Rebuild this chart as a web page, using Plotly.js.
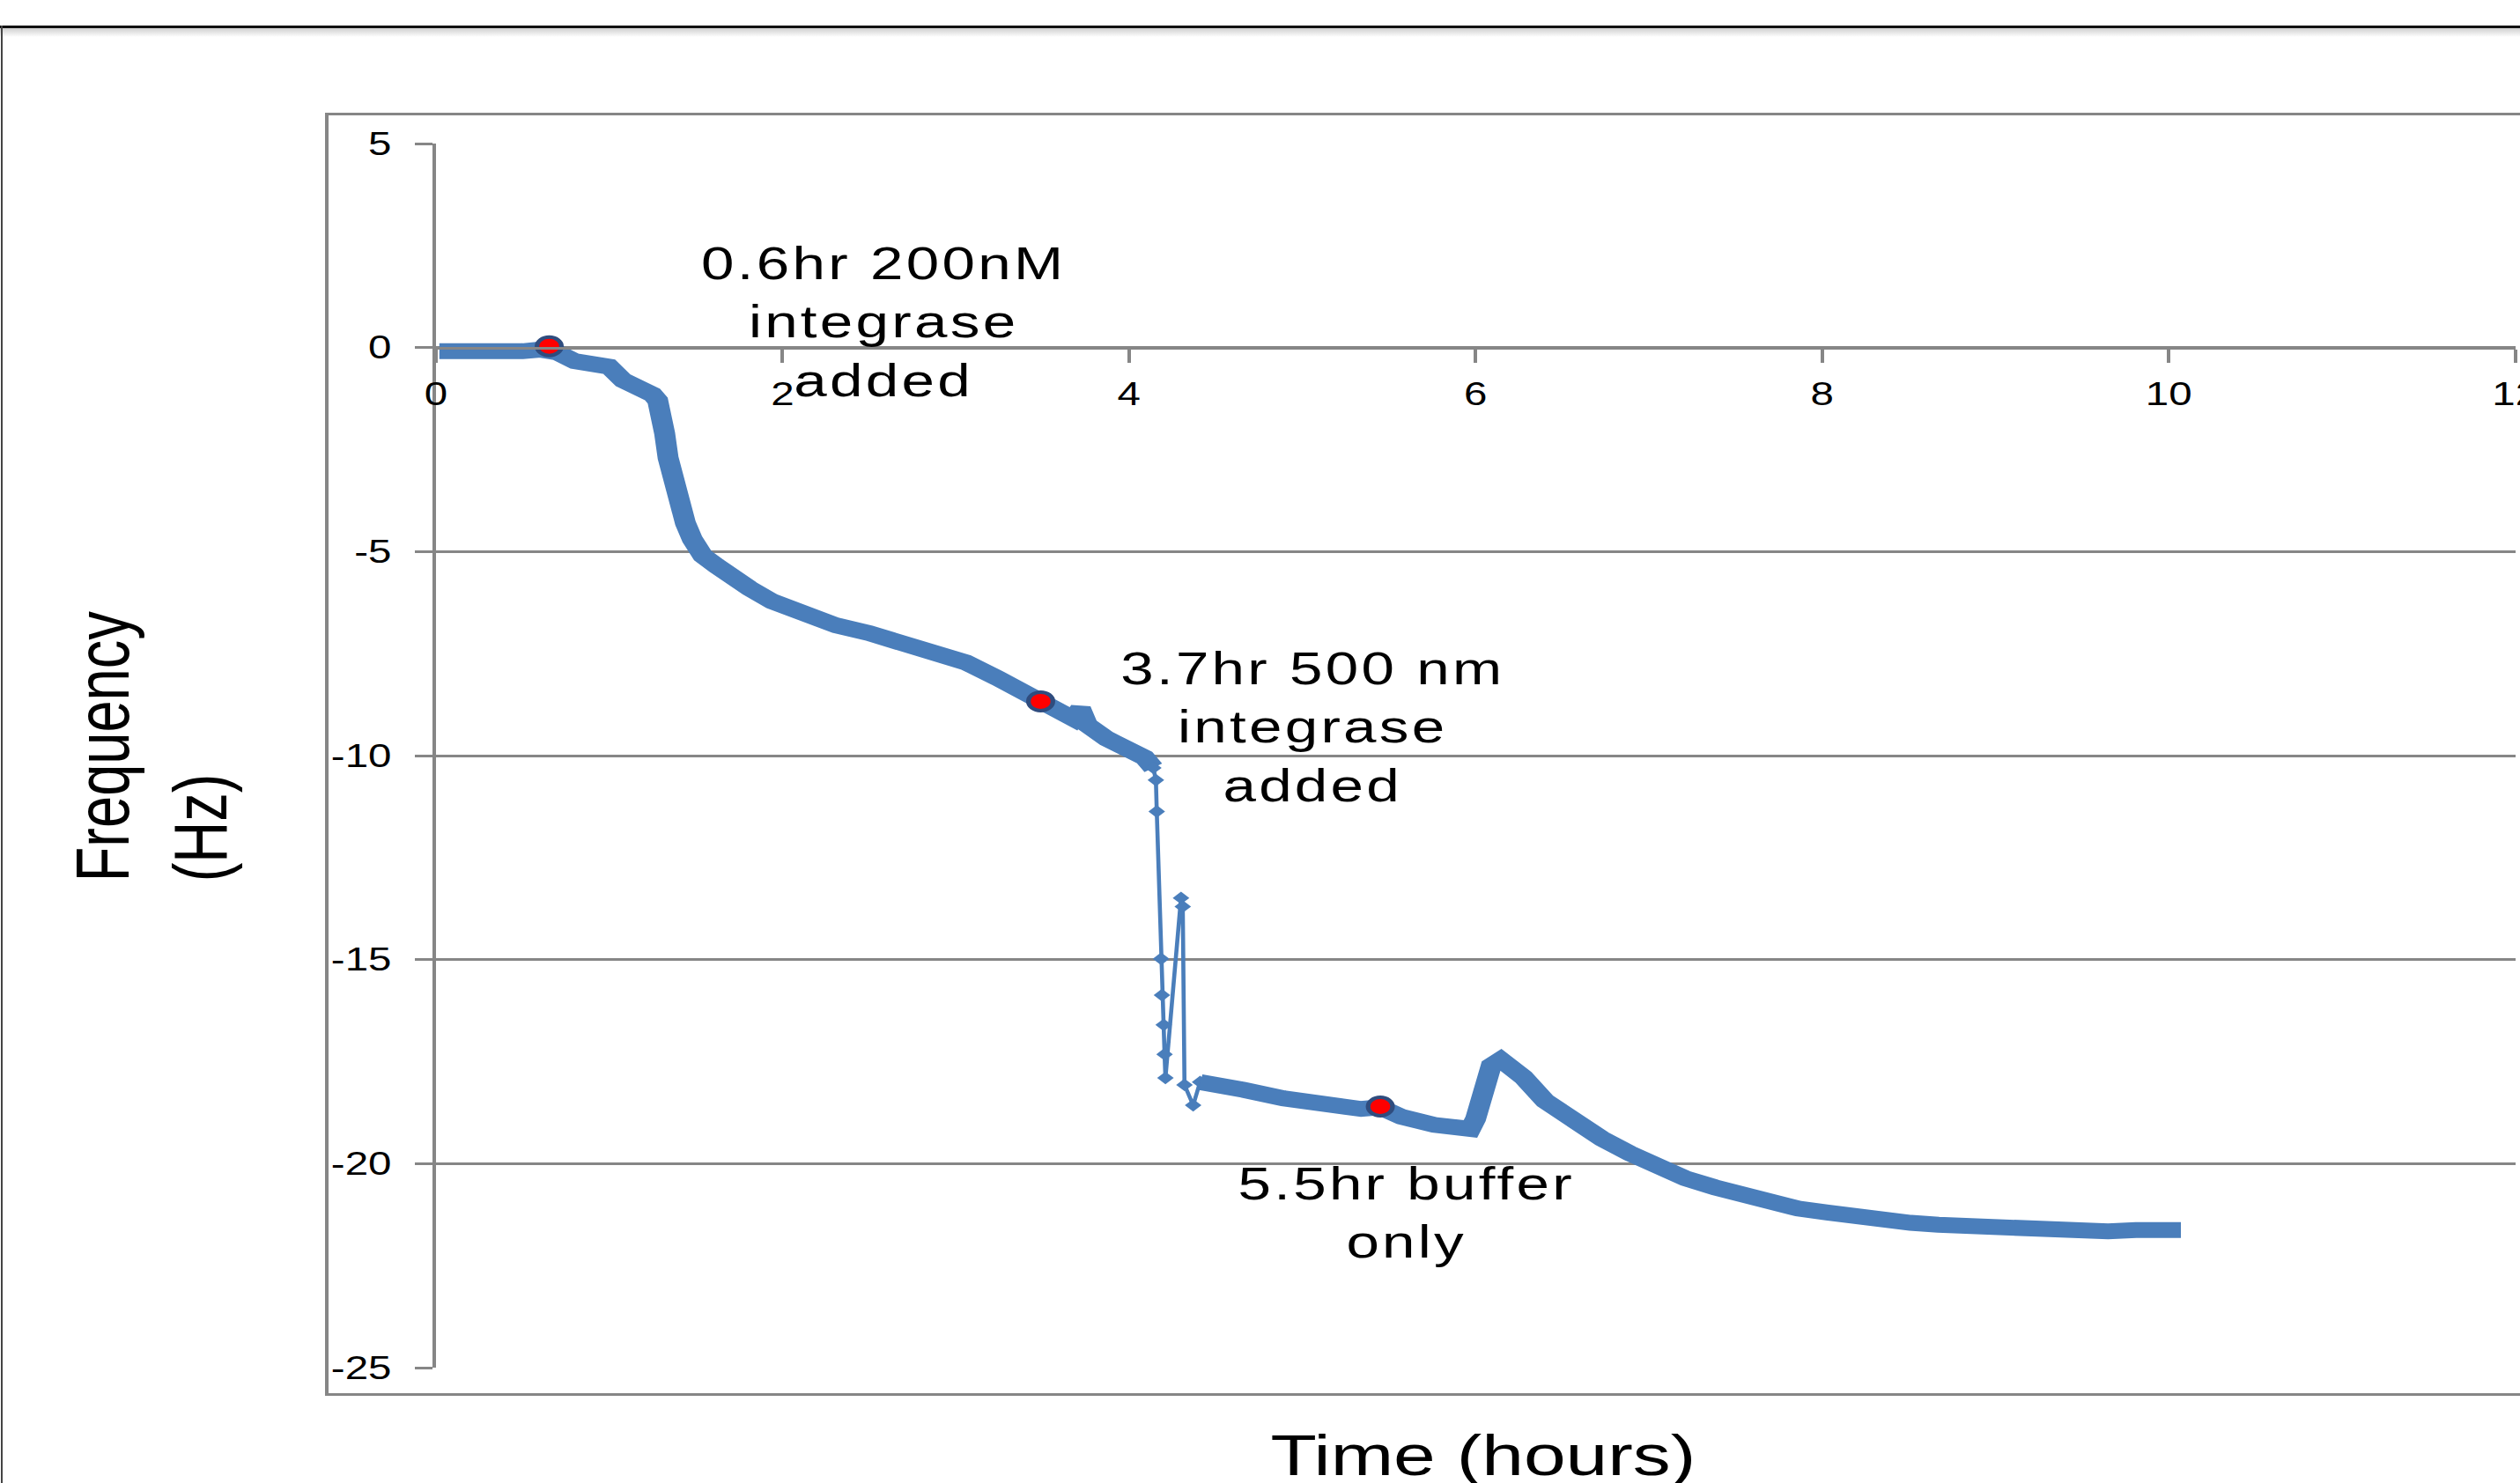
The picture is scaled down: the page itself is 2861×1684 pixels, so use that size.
<!DOCTYPE html>
<html>
<head>
<meta charset="utf-8">
<script src="https://cdn.plot.ly/plotly-3.0.1.min.js"></script>
<style>
  html, body { margin: 0; padding: 0; background: #fff; }
  #wrap { position: relative; width: 2861px; height: 1684px; overflow: hidden; background: #fff; }
  #chart { position: absolute; left: 0; top: 0; width: 2168px; height: 1684px; transform-origin: 0 0; }
  .spaced text { letter-spacing: 2.5px; }
</style>
</head>
<body>
<div id="wrap">
  <div style="position:absolute;left:0;top:29px;width:2861px;height:3px;background:#111;"></div>
  <div style="position:absolute;left:0;top:32px;width:2861px;height:10px;background:linear-gradient(#cfcfcf,#ffffff);"></div>
  <div style="position:absolute;left:1px;top:29px;width:2px;height:1655px;background:#444;"></div>
  <div id="chart"></div>
  <div style="position:absolute;left:369px;top:128px;width:3000px;height:1451px;border:3px solid #868686;border-left-width:4px;border-right:none;pointer-events:none;"></div>
</div>
<script>
// ---- data ----
// before the 500 nM addition
const t1 = [0.02, 0.1, 0.2, 0.3, 0.4, 0.5, 0.6, 0.7, 0.8, 0.9, 1.0, 1.08, 1.15, 1.2, 1.25, 1.28, 1.3, 1.32, 1.34, 1.37, 1.40, 1.44, 1.48, 1.54, 1.62, 1.71, 1.81, 1.94, 2.13, 2.31, 2.5, 2.69, 2.87, 3.06, 3.24, 3.38, 3.5, 3.6, 3.68, 3.72, 3.74, 3.76, 3.87, 4.0, 4.09, 4.14];
const f1 = [-0.09, -0.1, -0.07, -0.07, -0.09, -0.09, -0.05, -0.12, -0.33, -0.4, -0.47, -0.8, -0.95, -1.0, -1.15, -1.3, -1.6, -2.1, -2.7, -3.3, -3.8, -4.3, -4.7, -5.1, -5.35, -5.67, -5.9, -6.22, -6.54, -6.81, -7.0, -7.24, -7.44, -7.72, -8.1, -8.43, -8.66, -8.9, -9.1, -8.85, -9.0, -9.25, -9.58, -9.85, -10.05, -10.3];
// the sharp drop after the addition
const t2 = [4.14, 4.155, 4.16, 4.185, 4.19, 4.2, 4.205, 4.21, 4.30, 4.31, 4.32, 4.37, 4.41];
const f2 = [-10.3, -10.6, -11.37, -14.98, -15.87, -16.6, -17.32, -17.9, -13.49, -13.7, -18.07, -18.57, -18.0];
// after the drop
const t3 = [4.41, 4.5, 4.66, 4.89, 5.12, 5.34, 5.45, 5.57, 5.76, 5.9, 5.97, 6.0, 6.02, 6.05, 6.09, 6.145, 6.2, 6.275, 6.4, 6.57, 6.73, 6.89, 7.05, 7.21, 7.38, 7.54, 7.70, 7.86, 8.03, 8.19, 8.35, 8.51, 8.67, 8.84, 9.0, 9.16, 9.32, 9.48, 9.65, 9.81, 9.97, 10.07];
const f3 = [-18.0, -18.05, -18.19, -18.4, -18.53, -18.66, -18.62, -18.85, -19.05, -19.12, -19.15, -18.9, -18.5, -17.9, -17.6, -17.45, -17.6, -17.88, -18.46, -18.96, -19.39, -19.75, -20.08, -20.36, -20.58, -20.77, -20.95, -21.1, -21.2, -21.31, -21.38, -21.45, -21.5, -21.54, -21.56, -21.6, -21.66, -21.7, -21.66, -21.63, -21.63, -21.63];
// highlighted events
const eventT = [0.654, 3.49, 5.45];
const eventF = [0.03, -8.67, -18.6];
const eventLabels = ["0.6hr 200nM<br>integrase<br>added", "3.7hr 500 nm<br>integrase<br>added", "5.5hr buffer<br>only"];
const labelT = [2.582, 5.062, 5.60];
const labelF = [0.618, -9.31, -21.21];
const xTitle = "Time (hours)";
const yTitle = "Frequency<br>(Hz)";
const xTicks = [0, 2, 4, 6, 8, 10, 12];
const yTicks = [5, 0, -5, -10, -15, -20, -25];

// ---- drawing ----
const W = 2168, H = 1684, S = 2861 / W;
const blue = "#4A7EBB", grid = "#868686";
const fontFam = "Liberation Sans, Arial, sans-serif";

const traces = [
  { x: t1, y: f1, type: "scatter", mode: "lines", line: { color: blue, width: 18 }, hoverinfo: "skip" },
  { x: t2, y: f2, type: "scatter", mode: "lines+markers", line: { color: blue, width: 3.5 },
    marker: { symbol: "diamond", size: 11, color: blue }, hoverinfo: "skip" },
  { x: t3, y: f3, type: "scatter", mode: "lines", line: { color: blue, width: 18 }, hoverinfo: "skip" },
  { x: eventT, y: eventF, type: "scatter", mode: "markers",
    marker: { symbol: "circle", size: 21, color: "#FF0000", line: { color: "#2F4C7E", width: 4 } }, hoverinfo: "skip" }
];

const annotations = eventLabels.map((txt, i) => ({
  x: labelT[i], y: labelF[i], xref: "x", yref: "y", text: txt, showarrow: false,
  xanchor: "center", yanchor: "middle", align: "center",
  font: { family: fontFam, size: 51, color: "#000" }
}));
annotations.push({
  x: 6.043, y: -0.0719, xref: "x", yref: "paper", text: xTitle, showarrow: false,
  xanchor: "center", yanchor: "middle", font: { family: fontFam, size: 65, color: "#000" }
});
annotations.push({
  x: -0.1367, y: 0.508, xref: "paper", yref: "paper", text: yTitle, showarrow: false,
  textangle: -90, align: "left", xanchor: "center", yanchor: "middle",
  font: { family: fontFam, size: 65, color: "#000" }
});

const layout = {
  width: W, height: H,
  margin: { l: 375, r: 4, t: 163, b: 131, pad: 0 },
  paper_bgcolor: "rgba(0,0,0,0)", plot_bgcolor: "rgba(0,0,0,0)",
  showlegend: false,
  xaxis: {
    range: [0, 12], tickvals: xTicks, ticktext: xTicks.map(String),
    anchor: "free", position: 25 / 30,
    showgrid: false, zeroline: false,
    showline: true, linecolor: grid, linewidth: 3,
    ticks: "outside", ticklen: 15, tickwidth: 3, tickcolor: grid,
    ticklabelstandoff: 5, ticklabeloverflow: "allow",
    tickfont: { family: fontFam, size: 36, color: "#000" },
    automargin: false, fixedrange: true
  },
  yaxis: {
    range: [-25, 5], tickvals: yTicks, ticktext: yTicks.map(String),
    showgrid: true, gridcolor: grid, gridwidth: 3, zeroline: false,
    showline: true, linecolor: grid, linewidth: 3,
    ticks: "outside", ticklen: 15, tickwidth: 3, tickcolor: grid,
    ticklabelstandoff: 13,
    tickfont: { family: fontFam, size: 36, color: "#000" },
    automargin: false, fixedrange: true
  },
  annotations: annotations
};

const gd = document.getElementById("chart");
Plotly.newPlot(gd, traces, layout, { staticPlot: true, displayModeBar: false }).then(() => {
  gd.querySelectorAll(".annotation").forEach(g => {
    const idx = Number(g.getAttribute("data-index"));
    if (idx < eventLabels.length) g.classList.add("spaced");
  });
  gd.style.transform = "scaleX(" + S + ")";
});
</script>
</body>
</html>
